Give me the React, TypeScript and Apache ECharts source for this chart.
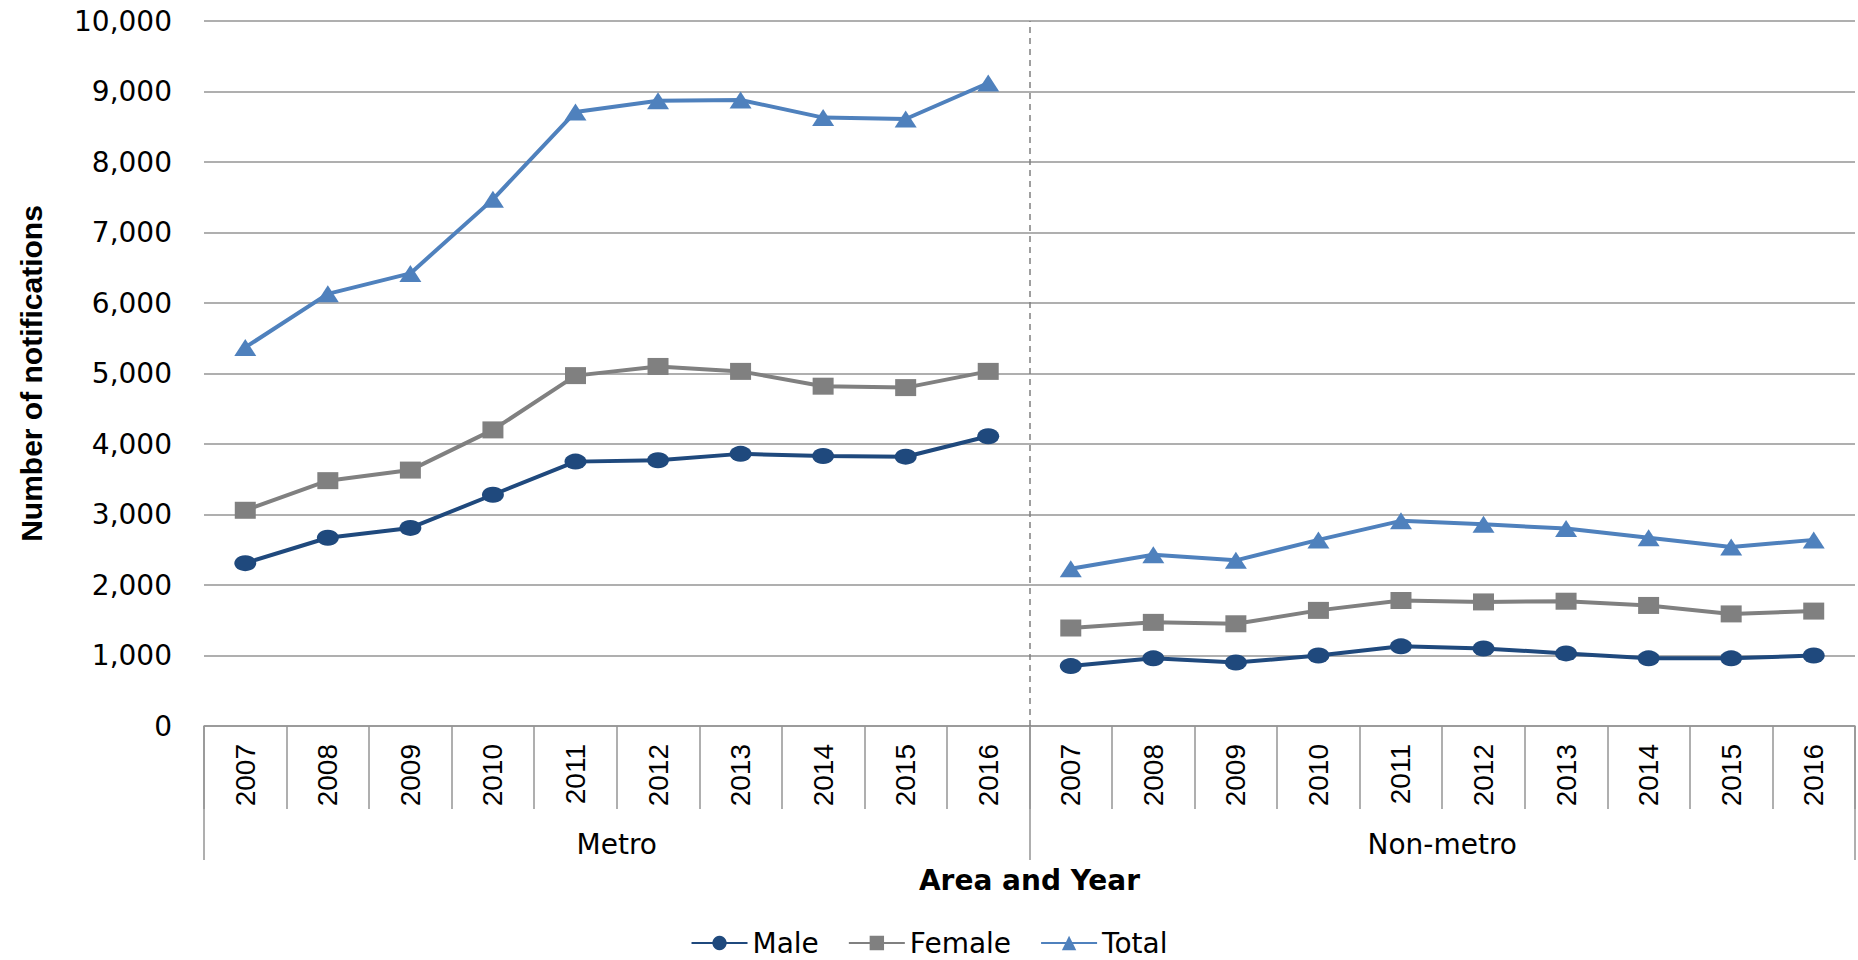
import React, { useEffect, useRef } from "react";
import * as echarts from "echarts";

const years = ["2007", "2008", "2009", "2010", "2011", "2012", "2013", "2014", "2015", "2016"];
const areas = ["Metro", "Non-metro"];
const yTicks = { min: 0, max: 10000, interval: 1000 };

const metroMale = [2310, 2670, 2810, 3280, 3750, 3770, 3860, 3830, 3820, 4110];
const metroFemale = [3060, 3480, 3630, 4200, 4970, 5100, 5030, 4820, 4800, 5030];
const metroTotal = [5370, 6130, 6420, 7470, 8710, 8870, 8880, 8630, 8610, 9120];
const nonMetroMale = [850, 960, 900, 1000, 1130, 1100, 1030, 960, 960, 1000];
const nonMetroFemale = [1390, 1470, 1450, 1640, 1780, 1760, 1770, 1710, 1590, 1630];
const nonMetroTotal = [2230, 2430, 2350, 2640, 2910, 2860, 2800, 2670, 2540, 2640];

const FONT = "'Liberation Sans', Arial, sans-serif";
const WIDE = "'DejaVu Sans', 'Liberation Sans', sans-serif";
const GRID_COLOR = "#959595";

export default function App() {
  const ref = useRef<HTMLDivElement>(null);
  useEffect(() => {
    document.body.style.margin = "0";
    const chart = echarts.init(ref.current!, null, { renderer: "svg" });
    const categories = [...years, ...years];
    const blank = years.map(() => null);
    const seriesDefs = [
      { name: "Male", color: "#1F497D", symbol: "circle", size: [22, 16], metro: metroMale, non: nonMetroMale },
      { name: "Female", color: "#808080", symbol: "rect", size: [21, 17], metro: metroFemale, non: nonMetroFemale },
      { name: "Total", color: "#4F81BD", symbol: "triangle", size: [22, 17], metro: metroTotal, non: nonMetroTotal },
    ];
    const series: any[] = [];
    seriesDefs.forEach((d) => {
      [
        [...d.metro, ...blank],
        [...blank, ...d.non],
      ].forEach((data) => {
        series.push({
          type: "line",
          name: d.name,
          xAxisIndex: 0,
          yAxisIndex: 0,
          data,
          connectNulls: false,
          symbol: d.symbol,
          symbolSize: d.size,
          showAllSymbol: true,
          itemStyle: { color: d.color },
          lineStyle: { color: d.color, width: 4 },
          z: 3,
        });
      });
    });
    series.push({
      type: "line",
      name: "divider",
      xAxisIndex: 2,
      yAxisIndex: 0,
      data: [],
      silent: true,
      markLine: {
        silent: true,
        symbol: ["none", "none"],
        label: { show: false },
        lineStyle: { type: [6, 5], color: "#808080", width: 1.5 },
        data: [{ xAxis: 10 }],
      },
    });

    chart.setOption({
      animation: false,
      textStyle: { fontFamily: FONT },
      grid: { left: 204, right: 3, top: 21, bottom: 234, containLabel: false },
      legend: {
        data: ["Male", "Female", "Total"],
        top: 924,
        left: "center",
        itemWidth: 56,
        itemHeight: 18,
        itemGap: 29,
        textStyle: { fontSize: 28, color: "#000", fontFamily: WIDE },
      },
      xAxis: [
        {
          type: "category",
          data: categories,
          position: "bottom",
          boundaryGap: true,
          axisLine: { show: true, lineStyle: { color: GRID_COLOR, width: 1.5 } },
          axisTick: { show: true, interval: 0, length: 83, lineStyle: { color: GRID_COLOR, width: 1.5 } },
          axisLabel: { interval: 0, rotate: 90, margin: 18, fontSize: 28, color: "#000", fontFamily: FONT },
          splitLine: { show: false },
        },
        {
          type: "category",
          data: areas,
          position: "bottom",
          boundaryGap: true,
          axisLine: { show: false },
          axisTick: { show: true, interval: 0, length: 134, lineStyle: { color: GRID_COLOR, width: 1.5 } },
          axisLabel: { interval: 0, margin: 104, fontSize: 28, color: "#000", fontFamily: WIDE },
          splitLine: { show: false },
          name: "Area and Year",
          nameLocation: "middle",
          nameGap: 140,
          nameTextStyle: { fontSize: 28, fontWeight: "bold", color: "#000", fontFamily: WIDE },
        },
        {
          type: "value",
          min: 0,
          max: 20,
          position: "top",
          show: false,
        },
      ],
      yAxis: {
        type: "value",
        min: yTicks.min,
        max: yTicks.max,
        interval: yTicks.interval,
        axisLine: { show: false },
        axisTick: { show: false },
        splitLine: { show: true, lineStyle: { color: GRID_COLOR, width: 1.5 } },
        axisLabel: {
          margin: 32,
          fontSize: 28,
          color: "#000",
          fontFamily: WIDE,
          formatter: (v: number) => v.toLocaleString("en-US"),
        },
        name: "Number of notifications",
        nameLocation: "middle",
        nameGap: 158,
        nameTextStyle: { fontSize: 30, fontWeight: "bold", color: "#000", fontFamily: FONT },
      },
      series,
    });
    return () => chart.dispose();
  }, []);
  return <div ref={ref} style={{ width: 1858, height: 960 }} />;
}
